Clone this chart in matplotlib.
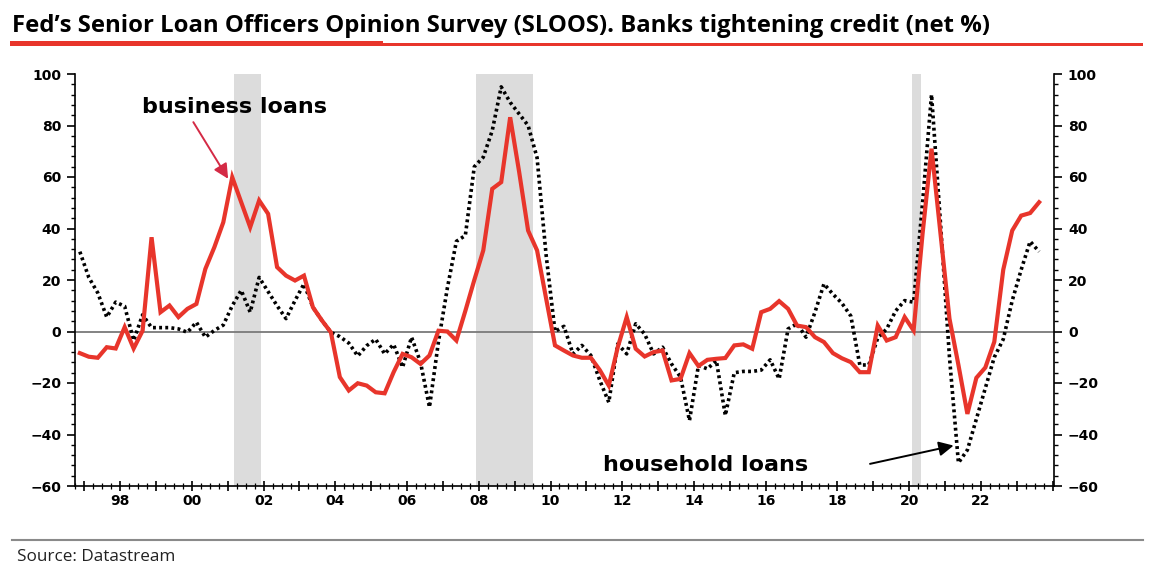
import numpy as np
import pandas as pd
import matplotlib
matplotlib.use("Agg")
import matplotlib.pyplot as plt
from matplotlib.patches import Rectangle
from matplotlib.lines import Line2D
from matplotlib.ticker import MultipleLocator, FixedLocator, FixedFormatter

# quarterly survey, 1996Q4 .. 2023Q3
quarters = pd.period_range("1996Q4", "2023Q3", freq="Q")

# net % of banks tightening standards, business (C&I) loans
business = [
    -8.4, -9.8, -10.2, -6.1, -6.6, 1.7, -6.6, 0.3, 36.6, 7.5,
    10.1, 5.6, 8.8, 10.7, 24.3, 32.7, 42.4, 59.9, 50.2, 40.5,
    50.9, 45.7, 25.0, 21.7, 19.8, 21.7, 9.4, 4.3, -0.3, -17.7,
    -22.9, -20.1, -21.0, -23.6, -24.0, -15.8, -8.7, -10.0, -12.6, -9.3,
    0.3, 0.0, -3.5, 8.0, 20.0, 31.5, 55.4, 58.0, 83.2, 62.0,
    39.2, 31.5, 13.0, -5.4, -7.4, -9.3, -10.2, -10.2, -15.0, -21.0,
    -6.1, 5.6, -6.7, -9.7, -8.0, -7.4, -19.0, -18.4, -8.4, -13.4,
    -11.0, -10.6, -10.3, -5.4, -5.0, -6.7, 7.5, 8.8, 11.8, 8.8,
    2.3, 1.7, -2.2, -4.1, -8.4, -10.4, -11.9, -15.8, -15.8, 2.3,
    -3.5, -2.2, 5.6, 0.4, 38.0, 71.0, 38.0, 5.0, -13.0, -32.0,
    -18.0, -14.0, -4.0, 24.0, 39.2, 45.0, 46.0, 50.2,
]

# household loans
household = [
    31.0, 21.0, 15.0, 5.6, 11.4, 9.8, -3.5, 6.5, 1.5, 1.5,
    1.5, 1.0, -0.3, 3.6, -2.2, 0.4, 2.5, 10.0, 16.0, 7.5,
    21.0, 15.5, 10.0, 5.0, 12.0, 18.5, 9.4, 4.3, -0.3, -2.0,
    -4.5, -9.5, -5.5, -3.0, -8.7, -5.0, -13.9, -2.2, -12.0, -29.4,
    -4.0, 17.0, 35.0, 37.3, 64.0, 67.7, 78.0, 95.0, 89.0, 84.5,
    80.0, 67.5, 30.0, 0.0, 2.0, -8.7, -5.4, -9.3, -19.0, -27.5,
    -4.8, -8.7, 3.0, -1.0, -8.7, -6.1, -12.6, -17.7, -34.6, -13.2,
    -14.5, -11.3, -32.6, -16.0, -15.5, -15.5, -15.0, -11.0, -18.4, 1.0,
    3.0, -2.2, 7.5, 18.5, 14.5, 11.0, 6.0, -13.0, -13.0, -2.5,
    1.0, 8.0, 12.0, 11.4, 50.0, 92.0, 42.0, -10.0, -51.0, -46.0,
    -34.0, -22.0, -10.0, -3.0, 12.0, 24.0, 35.0, 31.0,
]

# US recessions (fractional years)
rec_start = [2001.17, 2007.92, 2020.08]
rec_end = [2001.92, 2009.50, 2020.33]

year_ticks = list(range(1997, 2025))
year_labels = ["%02d" % (y % 100) if y % 2 == 0 and y < 2024 else "" for y in year_ticks]

RED = "#e8352b"
W, H = 1164, 580

# mid-quarter positions in fractional years
t = np.array(quarters.year + (quarters.quarter - 1) * 0.25 + 0.125, dtype=float)

fig = plt.figure(figsize=(W / 100, H / 100), dpi=100)
fig.patch.set_facecolor("white")

ax = fig.add_axes([75 / W, 1 - 486 / H, (1054 - 75) / W, (486 - 74) / H])

for a, b in zip(rec_start, rec_end):
    ax.axvspan(a, b, color="#dcdcdc", lw=0, zorder=0)

ax.axhline(0, color="#7a7a7a", lw=1.3, zorder=1)
ax.plot(t, household, color="black", lw=2.6, ls=(0, (0.8, 0.9)), zorder=2)
ax.plot(t, business, color=RED, lw=3.0, zorder=3, solid_joinstyle="miter")

ax.set_xlim(1996.74, 2024.04)
ax.set_ylim(-60, 100)

ax.spines["top"].set_visible(False)
for s in ["left", "right", "bottom"]:
    ax.spines[s].set_linewidth(1.2)

ax.yaxis.set_major_locator(MultipleLocator(20))
ax.yaxis.set_minor_locator(MultipleLocator(4))
ax.xaxis.set_major_locator(FixedLocator(year_ticks))
ax.xaxis.set_major_formatter(FixedFormatter(year_labels))
ax.xaxis.set_minor_locator(MultipleLocator(0.25))

ax.tick_params(axis="y", which="both", direction="out", left=True, right=True,
               labelleft=True, labelright=True)
ax.tick_params(axis="y", which="major", length=6, width=1.2, pad=4)
ax.tick_params(axis="y", which="minor", length=3, width=1.0)
ax.tick_params(axis="x", which="major", direction="inout", length=7, width=1.2, pad=2)
ax.tick_params(axis="x", which="minor", direction="inout", length=4, width=0.9)
for lab in ax.get_xticklabels() + ax.get_yticklabels():
    lab.set_fontweight("bold")
    lab.set_fontsize(10)
for tk in ax.yaxis.get_major_ticks():
    tk.label2.set_fontweight("bold")
    tk.label2.set_fontsize(10)

# annotations
ax.text(1998.6, 87.1, "business loans", fontsize=16, fontweight="bold",
        family="DejaVu Sans", va="center", ha="left")
ax.annotate("", xy=(2001.01, 59.3), xytext=(2000.04, 81.3),
            arrowprops=dict(arrowstyle="-|>", color="#d42a45", lw=1.4,
                            mutation_scale=22, shrinkA=0, shrinkB=0))
ax.text(2011.46, -52.0, "household loans", fontsize=16, fontweight="bold",
        family="DejaVu Sans", va="center", ha="left")
ax.annotate("", xy=(2021.24, -44.3), xytext=(2018.91, -51.4),
            arrowprops=dict(arrowstyle="-|>", color="black", lw=1.4,
                            mutation_scale=22, shrinkA=0, shrinkB=0))

# title and rules
fig.text(12 / W, 1 - 32 / H,
         "Fed\u2019s Senior Loan Officers Opinion Survey (SLOOS). Banks tightening credit (net %)",
         fontsize=17.2, fontweight="bold", family="Open Sans", va="baseline", ha="left")
fig.add_artist(Rectangle((10 / W, 1 - 45.5 / H), (383 - 10) / W, 4.5 / H,
                         transform=fig.transFigure, color=RED, lw=0))
fig.add_artist(Rectangle((383 / W, 1 - 45.5 / H), (1143 - 383) / W, 2.2 / H,
                         transform=fig.transFigure, color=RED, lw=0))

fig.add_artist(Line2D([12 / W, 1143 / W], [1 - 540 / H, 1 - 540 / H],
                      transform=fig.transFigure, color="#8a8a8a", lw=1.5))
fig.text(17 / W, 1 - 557 / H, "Source: Datastream", fontsize=12.3,
         family="Open Sans", va="center", ha="left", color="#222222")

fig.savefig("out.png", dpi=100, facecolor="white")
